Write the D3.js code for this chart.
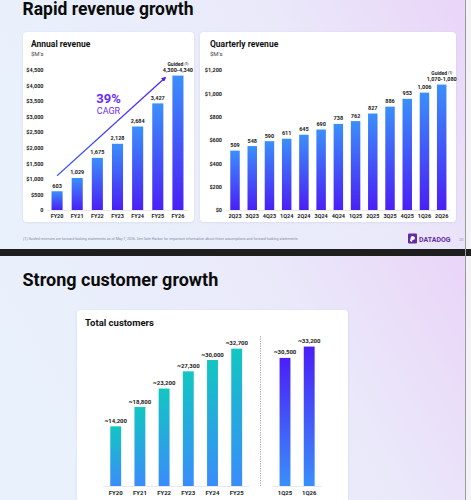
<!DOCTYPE html>
<html>
<head>
<meta charset="utf-8">
<script src="https://cdn.jsdelivr.net/npm/d3@7"></script>
<style>
  html, body { margin: 0; padding: 0; background: #f3f3f5; }
  svg { display: block; font-family: Roboto, "Noto Sans", sans-serif; }
</style>
</head>
<body>
<div id="graph"></div>
<script>
// chart data
const annualCats = ["FY20", "FY21", "FY22", "FY23", "FY24", "FY25", "FY26"];
const annualVals = [603, 1029, 1675, 2128, 2684, 3427, 4320];
const annualLabels = ["603", "1,029", "1,675", "2,128", "2,684", "3,427", "4,300-4,340"];
const annualTicks = [0, 500, 1000, 1500, 2000, 2500, 3000, 3500, 4000, 4500];

const quarterCats = ["2Q23", "3Q23", "4Q23", "1Q24", "2Q24", "3Q24", "4Q24", "1Q25", "2Q25", "3Q25", "4Q25", "1Q26", "2Q26"];
const quarterVals = [509, 548, 590, 611, 645, 690, 738, 762, 827, 886, 953, 1006, 1075];
const quarterLabels = ["509", "548", "590", "611", "645", "690", "738", "762", "827", "886", "953", "1,006", "1,070-1,080"];
const quarterTicks = [0, 200, 400, 600, 800, 1000, 1200];

const custCats = ["FY20", "FY21", "FY22", "FY23", "FY24", "FY25"];
const custVals = [14200, 18800, 23200, 27300, 30000, 32700];
const custQCats = ["1Q25", "1Q26"];
const custQVals = [30500, 33200];

const W = 471, H = 500;

let svg = d3.select("#graph")
    .append("svg")
    .attr("width", W)
    .attr("height", H);

let defs = svg.append("defs");

function vGrad(id, top, bottom) {
    let g = defs.append("linearGradient")
        .attr("id", id)
        .attr("x1", 0).attr("y1", 0).attr("x2", 0).attr("y2", 1);
    g.append("stop").attr("offset", "0%").attr("stop-color", top);
    g.append("stop").attr("offset", "100%").attr("stop-color", bottom);
}
vGrad("revGrad", "#3b8ffa", "#4a1ff5");
vGrad("custGrad", "#12c6c2", "#3a8cfb");
vGrad("qGrad", "#4a1ff5", "#3b8ffa");

let bg = defs.append("linearGradient")
    .attr("id", "bgGrad")
    .attr("x1", 0).attr("y1", 0.3).attr("x2", 1).attr("y2", 0);
bg.append("stop").attr("offset", "0%").attr("stop-color", "#e9f1fc");
bg.append("stop").attr("offset", "60%").attr("stop-color", "#eae9fa");
bg.append("stop").attr("offset", "100%").attr("stop-color", "#ead5f8");

let arrowGrad = defs.append("linearGradient")
    .attr("id", "arrowGrad")
    .attr("x1", 0).attr("y1", 1).attr("x2", 1).attr("y2", 0);
arrowGrad.append("stop").attr("offset", "0%").attr("stop-color", "#3a5cfb");
arrowGrad.append("stop").attr("offset", "100%").attr("stop-color", "#4a1ff0");

defs.append("marker")
    .attr("id", "arrowHead")
    .attr("viewBox", "0 0 10 10")
    .attr("refX", 8).attr("refY", 5)
    .attr("markerWidth", 4).attr("markerHeight", 4)
    .attr("orient", "auto")
    .append("path")
    .attr("d", "M0,0L10,5L0,10z")
    .attr("fill", "#4a1ff0");

let shadow = defs.append("filter")
    .attr("id", "shadow")
    .attr("x", "-10%").attr("y", "-10%").attr("width", "120%").attr("height", "120%");
shadow.append("feDropShadow")
    .attr("dx", 0).attr("dy", 0.5)
    .attr("stdDeviation", 1.2)
    .attr("flood-color", "#8890b0")
    .attr("flood-opacity", 0.25);

// slide backgrounds
svg.append("rect").attr("x", 0).attr("y", 0).attr("width", 465).attr("height", 249).attr("fill", "url(#bgGrad)");
svg.append("rect").attr("x", 0).attr("y", 256).attr("width", 465).attr("height", 244).attr("fill", "url(#bgGrad)");
svg.append("rect").attr("x", 0).attr("y", 249).attr("width", W).attr("height", 7).attr("fill", "#1e1e1e");
svg.append("rect").attr("x", 465).attr("y", 0).attr("width", 1).attr("height", H).attr("fill", "#9a9a9a");

// titles
svg.append("text").attr("x", 22.5).attr("y", 14.5)
    .attr("font-size", "17.5px").attr("font-weight", 700).attr("fill", "#0b0b0b")
    .text("Rapid revenue growth");
svg.append("text").attr("x", 22.5).attr("y", 285.5)
    .attr("font-size", "18px").attr("font-weight", 700).attr("fill", "#0b0b0b")
    .text("Strong customer growth");

// cards
function card(x, y, w, h) {
    svg.append("rect")
        .attr("x", x).attr("y", y).attr("width", w).attr("height", h)
        .attr("rx", 4)
        .attr("fill", "#ffffff")
        .attr("filter", "url(#shadow)");
}
card(23, 32, 171, 190);
card(200, 32, 256, 190);
card(77, 310, 271, 200);

function cardTitle(x, y, title, sub, size) {
    svg.append("text").attr("x", x).attr("y", y)
        .attr("font-size", size + "px").attr("font-weight", 700).attr("fill", "#111")
        .text(title);
    if (sub) {
        svg.append("text").attr("x", x).attr("y", y + 8.5)
            .attr("font-size", "6px").attr("fill", "#444")
            .text(sub);
    }
}
cardTitle(31, 47, "Annual revenue", "$M's", 8.5);
cardTitle(210, 47, "Quarterly revenue", "$M's", 8.5);
cardTitle(85, 326, "Total customers", null, 9.5);

// generic bar chart
function barChart(cfg) {
    let g = svg.append("g");
    let x = d3.scaleBand()
        .domain(cfg.cats)
        .range(cfg.xRange)
        .paddingInner(cfg.padIn)
        .paddingOuter(cfg.padOut);

    let y = d3.scaleLinear()
        .domain(cfg.yDomain)
        .range(cfg.yRange);

    // baseline
    g.append("line")
        .attr("x1", cfg.xRange[0]).attr("x2", cfg.xRange[1])
        .attr("y1", y(0) + 0.5).attr("y2", y(0) + 0.5)
        .attr("stroke", "#e3e3e8").attr("stroke-width", 0.8);

    if (cfg.ticks) {
        let ax = g.append("g")
            .attr("transform", "translate(" + cfg.axisX + ",0)")
            .call(d3.axisLeft(y).tickValues(cfg.ticks).tickSize(0).tickPadding(0).tickFormat(cfg.tickFormat));
        ax.select(".domain").remove();
        ax.selectAll("text")
            .attr("font-size", "5.5px")
            .attr("font-weight", 700)
            .attr("font-family", "Roboto, sans-serif")
            .attr("fill", "#222");
    }

    g.selectAll(".bar")
        .data(cfg.vals)
        .enter()
        .append("rect")
        .attr("x", (d, i) => x(cfg.cats[i]))
        .attr("y", (d) => y(d))
        .attr("width", x.bandwidth())
        .attr("height", (d) => y(0) - y(d))
        .attr("fill", cfg.fill);

    g.selectAll(".val")
        .data(cfg.vals)
        .enter()
        .append("text")
        .attr("x", (d, i) => x(cfg.cats[i]) + x.bandwidth() / 2)
        .attr("y", (d) => y(d) - 3.5)
        .attr("text-anchor", "middle")
        .attr("font-size", cfg.labelSize + "px")
        .attr("font-weight", 700)
        .attr("fill", "#1a1a1a")
        .text((d, i) => cfg.labels[i]);

    g.selectAll(".cat")
        .data(cfg.cats)
        .enter()
        .append("text")
        .attr("x", (d) => x(d) + x.bandwidth() / 2)
        .attr("y", y(0) + cfg.catDy)
        .attr("text-anchor", "middle")
        .attr("font-size", cfg.labelSize + "px")
        .attr("font-weight", 700)
        .attr("fill", "#222")
        .text((d) => d);

    if (cfg.guided) {
        let last = cfg.cats[cfg.cats.length - 1];
        let gt = g.append("text")
            .attr("x", x(last) + x.bandwidth() / 2)
            .attr("y", y(cfg.vals[cfg.vals.length - 1]) - 9.5)
            .attr("text-anchor", "middle")
            .attr("font-size", "5px")
            .attr("font-weight", 700)
            .attr("fill", "#1a1a1a");
        gt.append("tspan").text("Guided ");
        gt.append("tspan").attr("font-size", "3px").attr("dy", -1.5).text("(1)");
    }
    return { x: x, y: y };
}

// Annual revenue
let fmtDollar = (d) => d === 0 ? "0" : "$" + d3.format(",")(d);
let annual = barChart({
    cats: annualCats, vals: annualVals, labels: annualLabels,
    xRange: [47, 188], padIn: 0.45, padOut: 0.225,
    yDomain: [0, 4500], yRange: [210, 70],
    ticks: annualTicks, axisX: 43.5, tickFormat: fmtDollar,
    fill: "url(#revGrad)", labelSize: 5.5, catDy: 8, guided: true
});

// CAGR arrow
svg.append("line")
    .attr("x1", annual.x("FY20") + annual.x.bandwidth() / 2)
    .attr("y1", annual.y(1100))
    .attr("x2", annual.x("FY26") - 7)
    .attr("y2", annual.y(4260))
    .attr("stroke", "url(#arrowGrad)")
    .attr("stroke-width", 1.2)
    .attr("marker-end", "url(#arrowHead)");

svg.append("text").attr("x", 108.5).attr("y", 103)
    .attr("text-anchor", "middle")
    .attr("font-size", "13px").attr("font-weight", 700).attr("fill", "#6a2cf2")
    .text("39%");
svg.append("text").attr("x", 108.5).attr("y", 114)
    .attr("text-anchor", "middle")
    .attr("font-size", "9px").attr("fill", "#6a2cf2")
    .text("CAGR");

// Quarterly revenue
let fmtQ = (d) => "$" + d3.format(",")(d);
barChart({
    cats: quarterCats, vals: quarterVals, labels: quarterLabels,
    xRange: [226.4, 450.3], padIn: 0.45, padOut: 0.225,
    yDomain: [0, 1200], yRange: [210, 70],
    ticks: quarterTicks, axisX: 222, tickFormat: fmtQ,
    fill: "url(#revGrad)", labelSize: 5.5, catDy: 8, guided: true
});

// Total customers
let fmtCust = (d) => "~" + d3.format(",")(d);
barChart({
    cats: custCats, vals: custVals, labels: custVals.map(fmtCust),
    xRange: [103, 249.4], padIn: 0.55, padOut: 0.3,
    yDomain: [0, 35000], yRange: [486, 339],
    ticks: null,
    fill: "url(#custGrad)", labelSize: 6, catDy: 9
});
barChart({
    cats: custQCats, vals: custQVals, labels: custQVals.map(fmtCust),
    xRange: [272.3, 321.9], padIn: 0.55, padOut: 0.3,
    yDomain: [0, 35000], yRange: [486, 339],
    ticks: null,
    fill: "url(#qGrad)", labelSize: 6, catDy: 9
});

// divider between annual and quarterly customers
svg.append("line")
    .attr("x1", 260.5).attr("x2", 260.5)
    .attr("y1", 336).attr("y2", 487)
    .attr("stroke", "#666")
    .attr("stroke-width", 0.6)
    .attr("stroke-dasharray", "1.2,1.2");

// footer
svg.append("text").attr("x", 23).attr("y", 240)
    .attr("font-size", "3.6px").attr("fill", "#8a8a9a")
    .text("(1) Guided revenues are forward-looking statements as of May 7, 2026.  See Safe Harbor for important information about these assumptions and forward-looking statements.");

let logo = svg.append("g").attr("transform", "translate(408,233.5)");
logo.append("rect").attr("width", 9).attr("height", 10).attr("rx", 1).attr("fill", "#632ca6");
logo.append("path")
    .attr("d", "M2,7.5 L3,3 L5,2.5 L7,4 L6.5,6 L4.5,6.5 L4,8.5 Z")
    .attr("fill", "#ffffff");
svg.append("text").attr("x", 419).attr("y", 241.5)
    .attr("font-size", "7px").attr("font-weight", 700).attr("fill", "#632ca6")
    .text("DATADOG");
svg.append("text").attr("x", 459).attr("y", 241)
    .attr("font-size", "4px").attr("fill", "#999")
    .text("20");
</script>
</body>
</html>
